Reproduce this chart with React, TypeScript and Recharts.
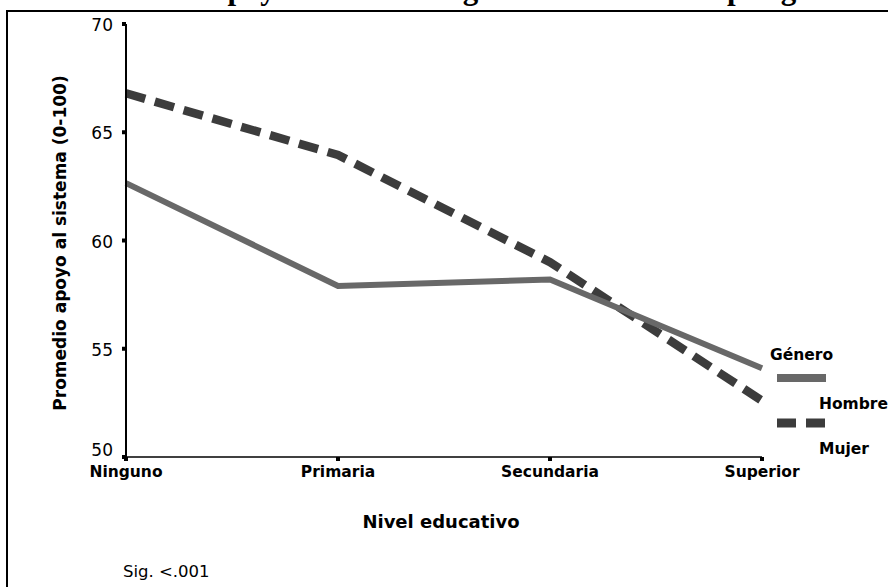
import { Label, Line, LineChart, XAxis, YAxis } from "recharts";

const niveles = ["Ninguno", "Primaria", "Secundaria", "Superior"];
const hombre = [62.65, 57.9, 58.2, 54.1];
const mujer = [66.8, 63.95, 59.0, 52.6];
const yTicks = [50, 55, 60, 65, 70];

const data = niveles.map((name, i) => ({ name, hombre: hombre[i], mujer: mujer[i] }));

const colors = {
  hombre: "#686868",
  mujer: "#3c3c3c",
};

const sans = "'DejaVu Sans', sans-serif";

// the bottom label sits a little higher so it clears "Ninguno"
const YTick = ({ x, y, payload }: any) => (
  <text
    x={x}
    y={payload.value === 50 ? y - 7 : y + 1}
    textAnchor="end"
    dominantBaseline="central"
    fontFamily={sans}
    fontSize={17}
    fill="#000"
  >
    {payload.value}
  </text>
);

const App = () => {
  return (
    <div
      style={{
        position: "absolute",
        left: 0,
        top: 0,
        width: 888,
        height: 587,
        overflow: "hidden",
        background: "#fff",
      }}
    >
      <div
        style={{
          position: "absolute",
          left: 6,
          top: 10,
          width: 1000,
          height: 1000,
          border: "2.5px solid #000",
        }}
      />
      <div style={{ position: "absolute", left: 0, top: 0 }}>
        <LineChart
          width={888}
          height={587}
          data={data}
          margin={{ top: 24, right: 126, bottom: 100, left: 66 }}
        >
          <XAxis
            dataKey="name"
            height={30}
            interval={0}
            padding={{ left: 0, right: 0 }}
            axisLine={{ stroke: "#000", strokeWidth: 1.5 }}
            tickLine={{ stroke: "#000", strokeWidth: 4 }}
            tickSize={4}
            tickMargin={5}
            tick={{ fill: "#000", fontFamily: sans, fontSize: 15.5, fontWeight: "bold" }}
          >
            <Label
              content={() => (
                <text
                  x={441}
                  y={528}
                  textAnchor="middle"
                  fontFamily={sans}
                  fontWeight="bold"
                  fontSize={18}
                  fill="#000"
                >
                  Nivel educativo
                </text>
              )}
            />
          </XAxis>
          <YAxis
            width={60}
            domain={[50, 70]}
            ticks={yTicks}
            axisLine={{ stroke: "#000", strokeWidth: 2 }}
            tickLine={{ stroke: "#000", strokeWidth: 4 }}
            tickSize={4}
            tickMargin={9}
            tick={YTick}
          >
            <Label
              content={() => (
                <text
                  x={60}
                  y={243}
                  transform="rotate(-90 60 243)"
                  textAnchor="middle"
                  dominantBaseline="central"
                  fontFamily={sans}
                  fontWeight="bold"
                  fontSize={17}
                  fill="#000"
                >
                  Promedio apoyo al sistema (0-100)
                </text>
              )}
            />
          </YAxis>
          <Line
            dataKey="mujer"
            stroke={colors.mujer}
            strokeWidth={8.5}
            strokeDasharray="20 10"
            dot={false}
            isAnimationActive={false}
          />
          <Line
            dataKey="hombre"
            stroke={colors.hombre}
            strokeWidth={6}
            dot={false}
            isAnimationActive={false}
          />
        </LineChart>
      </div>
      <svg
        width={888}
        height={587}
        style={{ position: "absolute", left: 0, top: 0, pointerEvents: "none" }}
      >
        <text
          x={37}
          y={-1.4}
          fontFamily="'Liberation Serif', serif"
          fontWeight="bold"
          fontSize={31}
          fill="#000"
        >
          Promedio de apoyo al sistema según nivel educativo por género
        </text>
        <text x={770} y={359.5} fontFamily={sans} fontWeight="bold" fontSize={15.5} fill="#000">
          Género
        </text>
        <line x1={777} x2={826} y1={378} y2={378} stroke={colors.hombre} strokeWidth={8} />
        <text x={819} y={408.5} fontFamily={sans} fontWeight="bold" fontSize={15.5} fill="#000">
          Hombre
        </text>
        <line
          x1={777}
          x2={826}
          y1={423}
          y2={423}
          stroke={colors.mujer}
          strokeWidth={9}
          strokeDasharray="19 10"
        />
        <text x={819} y={453.5} fontFamily={sans} fontWeight="bold" fontSize={15.5} fill="#000">
          Mujer
        </text>
        <text x={123} y={577} fontFamily={sans} fontSize={16.5} fill="#000">
          Sig. &lt;.001
        </text>
      </svg>
    </div>
  );
};

export default App;
